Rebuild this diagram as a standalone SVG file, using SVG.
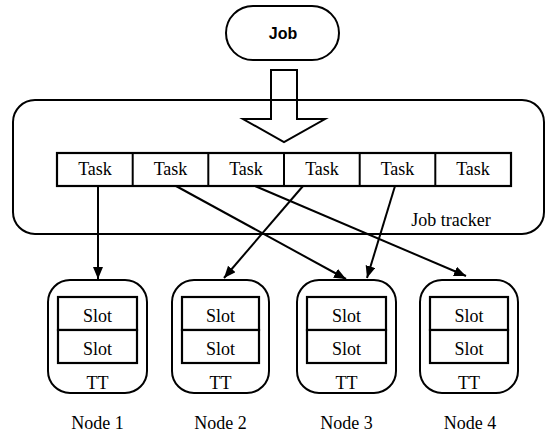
<svg xmlns="http://www.w3.org/2000/svg" width="547" height="432" viewBox="0 0 547 432">
<style>
.box{fill:none;stroke:#000;stroke-width:2}
.cell{fill:#fff;stroke:#000;stroke-width:2.2}
.t{font-family:'Liberation Serif','Times New Roman',Times,'DejaVu Serif',serif;font-size:18px;fill:#000;text-anchor:middle}
.job{font-family:'Liberation Sans',Arial,sans-serif;font-size:16px;font-weight:bold;fill:#000;text-anchor:middle}
.conn{fill:none;stroke:#000;stroke-width:2}
</style>
<defs>
<marker id="ah" markerUnits="userSpaceOnUse" markerWidth="13" markerHeight="11" refX="12" refY="5" orient="auto">
<path d="M0,0 L12,5 L0,10 z" fill="#000"/>
</marker>
</defs>
<rect width="547" height="432" fill="#fff"/>

<g id="job">
<rect class="box" x="226" y="6" width="113" height="54" rx="27"/>
<text class="job" x="283" y="39">Job</text>
</g>

<g id="jobtracker">
<rect class="box" x="13" y="100" width="531" height="134" rx="22"/>
<text class="t" x="451" y="226" font-family="Liberation Serif, serif">Job tracker</text>
</g>

<g id="tasks">
<rect class="cell" x="57" y="153" width="454" height="33"/>
<line class="box" x1="132.7" y1="153" x2="132.7" y2="186"/>
<line class="box" x1="208.3" y1="153" x2="208.3" y2="186"/>
<line class="box" x1="284" y1="153" x2="284" y2="186"/>
<line class="box" x1="359.7" y1="153" x2="359.7" y2="186"/>
<line class="box" x1="435.3" y1="153" x2="435.3" y2="186"/>
<text class="t" x="95" y="175">Task</text>
<text class="t" x="170.5" y="175">Task</text>
<text class="t" x="246" y="175">Task</text>
<text class="t" x="322" y="175">Task</text>
<text class="t" x="397.5" y="175">Task</text>
<text class="t" x="473" y="175">Task</text>
</g>

<g id="node1">
<rect class="box" x="48" y="280" width="99" height="113" rx="22"/>
<rect class="cell" x="58" y="297" width="79" height="33"/>
<rect class="cell" x="58" y="330" width="79" height="33"/>
<text class="t" x="97.5" y="322">Slot</text>
<text class="t" x="97.5" y="355">Slot</text>
<text class="t" x="97.5" y="389">TT</text>
<text class="t" x="97.5" y="429">Node 1</text>
</g>

<g id="node2">
<rect class="box" x="172" y="280" width="97" height="113" rx="22"/>
<rect class="cell" x="182" y="297" width="77" height="33"/>
<rect class="cell" x="182" y="330" width="77" height="33"/>
<text class="t" x="220.5" y="322">Slot</text>
<text class="t" x="220.5" y="355">Slot</text>
<text class="t" x="220.5" y="389">TT</text>
<text class="t" x="220.5" y="429">Node 2</text>
</g>

<g id="node3">
<rect class="box" x="297" y="280" width="99" height="113" rx="22"/>
<rect class="cell" x="307" y="297" width="79" height="33"/>
<rect class="cell" x="307" y="330" width="79" height="33"/>
<text class="t" x="346.5" y="322">Slot</text>
<text class="t" x="346.5" y="355">Slot</text>
<text class="t" x="346.5" y="389">TT</text>
<text class="t" x="346.5" y="429">Node 3</text>
</g>

<g id="node4">
<rect class="box" x="420" y="280" width="98" height="113" rx="22"/>
<rect class="cell" x="430" y="297" width="78" height="33"/>
<rect class="cell" x="430" y="330" width="78" height="33"/>
<text class="t" x="469" y="322">Slot</text>
<text class="t" x="469" y="355">Slot</text>
<text class="t" x="469" y="389">TT</text>
<text class="t" x="470" y="429">Node 4</text>
</g>

<g id="connectors">
<polygon class="conn" points="271,70 297,70 297,119 325,119 284,142 243,119 271,119"/>
<line class="conn" x1="98" y1="186" x2="98" y2="279" marker-end="url(#ah)"/>
<line class="conn" x1="176" y1="186" x2="346" y2="279" marker-end="url(#ah)"/>
<line class="conn" x1="255" y1="186" x2="466" y2="276" marker-end="url(#ah)"/>
<line class="conn" x1="303" y1="186" x2="224" y2="278" marker-end="url(#ah)"/>
<line class="conn" x1="395" y1="186" x2="367" y2="278" marker-end="url(#ah)"/>
</g>
</svg>
